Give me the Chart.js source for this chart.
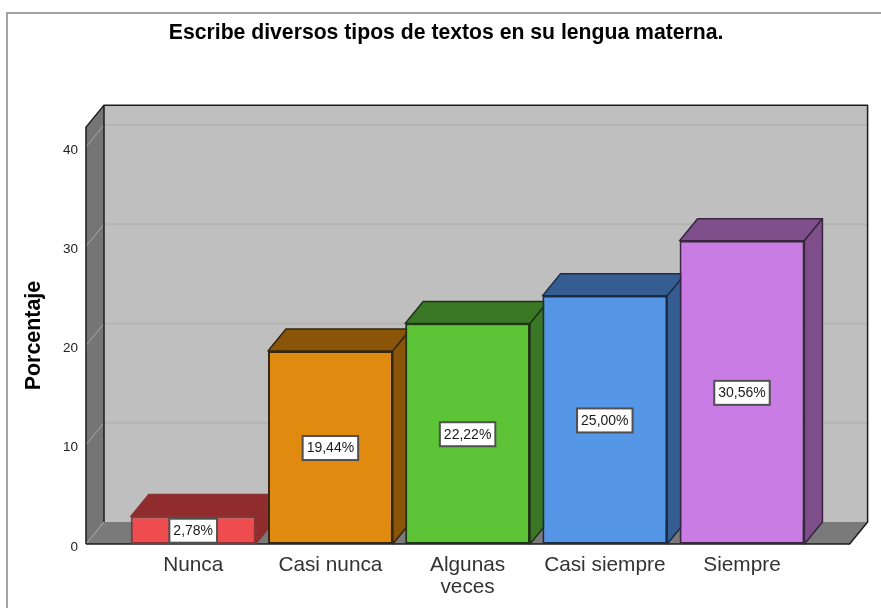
<!DOCTYPE html>
<html>
<head>
<meta charset="utf-8">
<title>Escribe diversos tipos de textos</title>
<style>
    html, body { margin: 0; background: #fff; overflow: hidden; width: 881px; height: 608px; }
    #frame { position: absolute; left: 6px; top: 12px; width: 900px; height: 620px;
             border-left: 2px solid #a3a3a3; border-top: 2px solid #a3a3a3; }
    canvas { position: absolute; left: 0; top: 0; }
</style>
<script src="https://cdn.jsdelivr.net/npm/chart.js@4"></script>
</head>
<body>
<div id="frame"></div>
<canvas id="chart" width="881" height="608"></canvas>
<script>
const chartTitle = "Escribe diversos tipos de textos en su lengua materna.";
const axisTitle = "Porcentaje";
const categories = ["Nunca", "Casi nunca", ["Algunas", "veces"], "Casi siempre", "Siempre"];
const percentages = [2.78, 19.44, 22.22, 25.0, 30.56];
const yTicks = [0, 10, 20, 30, 40];
const frontColors = ["#ee4c4e", "#e08a0f", "#5dc438", "#5596e6", "#c97ce3"];
const sideColors = ["#902c2e", "#8a5508", "#3b7825", "#355d92", "#7f4f8c"];
const edgeColors = ["#8a3436", "#33270f", "#1f3316", "#1b2c44", "#3a2642"];

const FONT = "'Liberation Sans', Arial, sans-serif";
const DEPTH_X = 18;
const DEPTH_Y = -22;
const OVER_LEFT = 38.6;   // floor sticks out past the category band
const OVER_RIGHT = 39;
const TITLE_SHIFT = 30.2; // title sits right of the padded centre in the original

function poly(ctx, pts, fill, stroke, lw) {
    ctx.beginPath();
    pts.forEach((p, i) => (i ? ctx.lineTo(p[0], p[1]) : ctx.moveTo(p[0], p[1])));
    ctx.closePath();
    if (fill) {
        ctx.fillStyle = fill;
        ctx.fill();
    }
    if (stroke) {
        ctx.strokeStyle = stroke;
        ctx.lineWidth = lw || 1.5;
        ctx.lineJoin = "round";
        ctx.stroke();
    }
}

// walls, floor and the top/side of every bar, all taken from the scales
const box3d = {
    id: "box3d",
    afterLayout(chart) {
        chart.titleBlock.left += TITLE_SHIFT;
        chart.titleBlock.right += TITLE_SHIFT;
    },
    beforeDatasetsDraw(chart) {
        const { ctx, chartArea, scales } = chart;
        const l = chartArea.left - OVER_LEFT;
        const r = chartArea.right + OVER_RIGHT;
        const t = chartArea.top;
        const b = chartArea.bottom;
        ctx.save();

        poly(ctx, [[l + DEPTH_X, t + DEPTH_Y], [r + DEPTH_X, t + DEPTH_Y], [r + DEPTH_X, b + DEPTH_Y], [l + DEPTH_X, b + DEPTH_Y]], "#bfbfbf");
        poly(ctx, [[l, t], [l + DEPTH_X, t + DEPTH_Y], [l + DEPTH_X, b + DEPTH_Y], [l, b]], "#757575");
        poly(ctx, [[l, b], [l + DEPTH_X, b + DEPTH_Y], [r + DEPTH_X, b + DEPTH_Y], [r, b]], "#7a7a7a");

        yTicks.forEach((v) => {
            const y = scales.y.getPixelForValue(v);
            if (v > 0) {
                ctx.strokeStyle = "#b3b3b3";
                ctx.lineWidth = 2;
                ctx.beginPath();
                ctx.moveTo(l + DEPTH_X, y + DEPTH_Y);
                ctx.lineTo(r + DEPTH_X, y + DEPTH_Y);
                ctx.stroke();
            }
            ctx.strokeStyle = "#a8a8a8";
            ctx.lineWidth = 1;
            ctx.beginPath();
            ctx.moveTo(l, y);
            ctx.lineTo(l + DEPTH_X, y + DEPTH_Y);
            ctx.stroke();
        });

        ctx.strokeStyle = "#1c1c1c";
        ctx.lineWidth = 1.5;
        ctx.lineJoin = "round";
        ctx.beginPath();
        ctx.moveTo(l, b);
        ctx.lineTo(l, t);
        ctx.lineTo(l + DEPTH_X, t + DEPTH_Y);
        ctx.lineTo(r + DEPTH_X, t + DEPTH_Y);
        ctx.lineTo(r + DEPTH_X, b + DEPTH_Y);
        ctx.lineTo(r, b);
        ctx.lineTo(l, b);
        ctx.moveTo(l + DEPTH_X, t + DEPTH_Y);
        ctx.lineTo(l + DEPTH_X, b + DEPTH_Y);
        ctx.stroke();

        chart.getDatasetMeta(0).data.forEach((bar, i) => {
            const left = bar.x - bar.width / 2;
            const right = bar.x + bar.width / 2;
            poly(ctx, [[left, bar.y], [left + DEPTH_X, bar.y + DEPTH_Y], [right + DEPTH_X, bar.y + DEPTH_Y], [right, bar.y]], sideColors[i], edgeColors[i]);
            poly(ctx, [[right, bar.y], [right + DEPTH_X, bar.y + DEPTH_Y], [right + DEPTH_X, b + DEPTH_Y], [right, b]], sideColors[i], edgeColors[i]);
        });
        ctx.restore();
    },
    afterDatasetsDraw(chart) {
        const { ctx, chartArea } = chart;
        ctx.save();
        ctx.font = "14px " + FONT;
        ctx.textAlign = "center";
        ctx.textBaseline = "middle";
        chart.getDatasetMeta(0).data.forEach((bar, i) => {
            const text = percentages[i].toFixed(2).replace(".", ",") + "%";
            const w = ctx.measureText(text).width + 8;
            const cy = (bar.y + chartArea.bottom) / 2 + 0.5;
            ctx.fillStyle = "#fff";
            ctx.fillRect(bar.x - w / 2, cy - 12, w, 24);
            ctx.strokeStyle = "#505050";
            ctx.lineWidth = 2;
            ctx.strokeRect(bar.x - w / 2, cy - 12, w, 24);
            ctx.fillStyle = "#1a1a1a";
            ctx.fillText(text, bar.x, cy + 0.5);
        });
        ctx.restore();
    },
};

new Chart(document.getElementById("chart").getContext("2d"), {
    type: "bar",
    plugins: [box3d],
    data: {
        labels: categories,
        datasets: [
            {
                data: percentages,
                backgroundColor: frontColors,
                borderColor: edgeColors,
                borderWidth: 2,
                borderSkipped: false,
                categoryPercentage: 0.91,
                barPercentage: 1,
            },
        ],
    },
    options: {
        responsive: false,
        animation: false,
        layout: {
            autoPadding: false,
            padding: { left: 21.2, right: 70.4, top: 0, bottom: 0 },
        },
        plugins: {
            legend: { display: false },
            tooltip: { enabled: false },
            title: {
                display: true,
                text: chartTitle,
                color: "#000",
                font: { family: FONT, size: 21.2, weight: "bold", lineHeight: 1.2 },
                padding: { top: 20, bottom: 81.7 },
            },
        },
        scales: {
            x: {
                grid: { display: false, drawTicks: false },
                border: { display: false },
                ticks: {
                    color: "#333",
                    font: { family: FONT, size: 20.8, lineHeight: 1.06 },
                    padding: 10,
                    maxRotation: 0,
                    autoSkip: false,
                },
                afterFit(scale) {
                    scale.height = 64;
                },
            },
            y: {
                min: 0,
                max: 42,
                grid: { display: false, drawTicks: false },
                border: { display: false },
                title: {
                    display: true,
                    text: axisTitle,
                    color: "#000",
                    font: { family: FONT, size: 21.4, weight: "bold", lineHeight: 1.2 },
                    padding: 0,
                },
                ticks: {
                    color: "#222",
                    font: { family: FONT, size: 13.5 },
                    padding: 46.6,
                    labelOffset: 3,
                    stepSize: 10,
                },
                afterBuildTicks(scale) {
                    scale.ticks = yTicks.map((value) => ({ value }));
                },
                afterFit(scale) {
                    scale.width = 103.4;
                },
            },
        },
    },
});
</script>
</body>
</html>
